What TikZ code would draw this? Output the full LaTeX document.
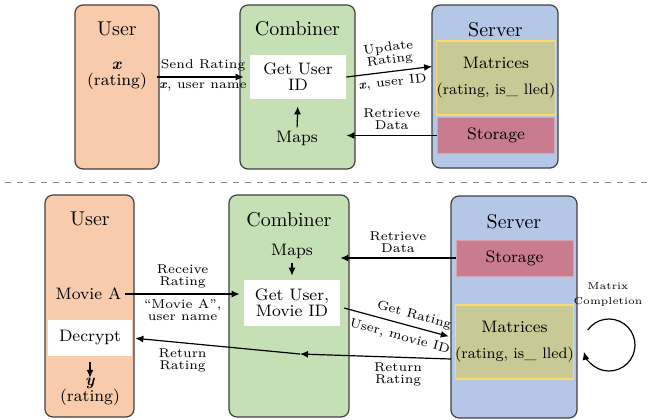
\documentclass[tikz,border=0pt]{standalone}
\usepackage{amsmath,amssymb}
\usetikzlibrary{arrows.meta,positioning,calc}
\definecolor{userfill}{HTML}{F8CBAD}
\definecolor{combfill}{HTML}{C5E0B4}
\definecolor{servfill}{HTML}{B4C7E7}
\definecolor{storfill}{HTML}{C97B8F}
\definecolor{matfill}{HTML}{C9C996}
\definecolor{matline}{HTML}{FFD966}

\begin{document}
\begin{tikzpicture}[x=0.5pt, y=-0.5pt,
  tier/.style={draw=black!75, line width=0.6pt, rounded corners=4pt},
  box/.style={fill=white, inner sep=0pt, align=center, font=\fontsize{8.3pt}{8pt}\selectfont},
  part/.style={inner sep=0pt, align=center, font=\fontsize{8.3pt}{8pt}\selectfont},
  head/.style={inner sep=0pt, font=\normalsize},
  stor/.style={part, fill=storfill, draw=storfill!70!white, minimum width=58.5pt, minimum height=18pt},
  mat/.style={part, fill=matfill, draw=matline, line width=0.6pt, minimum width=59pt, minimum height=37pt,
    font=\fontsize{7.6pt}{8pt}\selectfont},
  lbl/.style={align=center, inner sep=2.5pt, font=\fontsize{6.4pt}{6pt}\selectfont},
  link/.style={-{Latex[length=4pt, width=3.5pt]}, line width=0.6pt},
]
\useasboundingbox (0,0) rectangle (654,419);

% upper picture: sending a rating
\node[tier, fill=userfill, minimum width=42pt, minimum height=82pt] (userA) at (117,87) {};
\node[head] at (117,29) {User};
\node[part] (xin) at (117,76) {\textbf{\textit{x}}\\(rating)};

\node[tier, fill=combfill, minimum width=57.5pt, minimum height=82pt] (combA) at (297.5,87) {};
\node[head] at (297.5,29) {Combiner};
\node[box, minimum width=48pt, minimum height=22pt] (idA) at (298,77) {Get User\\ID};
\node[part] (mapsA) at (297,138) {Maps};

\node[tier, fill=servfill, minimum width=63pt, minimum height=81.5pt] (servA) at (495,86.5) {};
\node[head] at (495.5,30) {Server};
\node[mat] (matA) at (496,78) {\fontsize{8.3pt}{8pt}\selectfont Matrices\\[5pt](rating, is\_\hspace{3pt}lled)};
\node[stor] (storA) at (496,135.5) {Storage};

\draw[link, shorten >=3pt] ([xshift=-1.5pt]userA.east |- idA) -- node[lbl, above]{Send Rating}
  node[lbl, below]{\textbf{\textit{x}}, user name} (idA.west);
\draw[link, shorten >=2pt] (idA.east) -- node[lbl, above, sloped]{Update\\Rating}
  node[lbl, below, sloped]{\textbf{\textit{x}}, user ID} ([yshift=6pt]matA.west);
\draw[link] (storA.west) -- node[lbl, above]{Retrieve\\Data} (storA.west -| idA.east);
\draw[link, shorten <=1.5pt, shorten >=3.5pt] (mapsA.north) -- (idA.south);

\coordinate (sepL) at (5,182);
\coordinate (sepR) at (652,182);
\draw[gray, dashed, line width=0.4pt] (sepL) -- (sepR);

% lower picture: receiving a rating
\node[tier, fill=userfill, minimum width=44.5pt, minimum height=111pt] (userB) at (89.5,306) {};
\node[head] at (90,219) {User};
\node[part] (movie) at (88.5,294) {Movie A};
\node[box, minimum width=42pt, minimum height=18pt] (decr) at (90,338) {Decrypt};
\node[part] (yout) at (90,392) {\textbf{\textit{y}}\\(rating)};
\draw[link, shorten <=3pt] (decr.south) -- (yout.north);

\node[tier, fill=combfill, minimum width=60pt, minimum height=111pt] (combB) at (289,306) {};
\node[head] at (289,220) {Combiner};
\node[part] (mapsB) at (292,251) {Maps};
\node[box, minimum width=48pt, minimum height=23pt] (idB) at (292,303) {Get User,\\Movie ID};
\draw[link, shorten <=2pt, shorten >=2pt] (mapsB.south) -- (idB.north);

\node[tier, fill=servfill, minimum width=63pt, minimum height=111pt] (servB) at (514,307) {};
\node[head] at (514,222) {Server};
\node[stor] (storB) at (514.5,258) {Storage};
\node[mat] (matB) at (514.5,342) {\fontsize{8.3pt}{8pt}\selectfont Matrices\\[5pt](rating, is\_\hspace{3pt}lled)};

\draw[link, shorten <=1.5pt, shorten >=2pt] (movie.east) -- node[lbl, above]{Receive\\Rating}
  node[lbl, below]{``Movie A'',\\user name} (movie -| idB.west);
\draw[link] (storB.west) -- node[lbl, above]{Retrieve\\Data} (storB.west -| idB.east);
\draw[link, shorten <=2pt, shorten >=3pt] ([yshift=-2pt]idB.east) -- node[lbl, above, sloped, pos=0.62]{Get Rating}
  node[lbl, below, sloped, pos=0.55, inner sep=3.5pt]{User, movie ID} ([yshift=2pt]matB.west);

\coordinate (retS) at (451,359);
\coordinate (retM) at (300,354);
\draw[link] (retS) -- node[lbl, below, pos=0.35]{Return\\Rating} (retM);
\draw[link, shorten >=1.5pt] (retM) -- node[lbl, below, pos=0.7]{Return\\Rating} (decr.east);

\coordinate (loopc) at (609,345);
\node[lbl, font=\fontsize{5pt}{7.5pt}\selectfont] (mcl) at (608,295) {Matrix\\Completion};
\draw[link] ($(loopc)+(145:13pt)$) arc[start angle=145, end angle=-165, radius=13pt];
\end{tikzpicture}
\end{document}
